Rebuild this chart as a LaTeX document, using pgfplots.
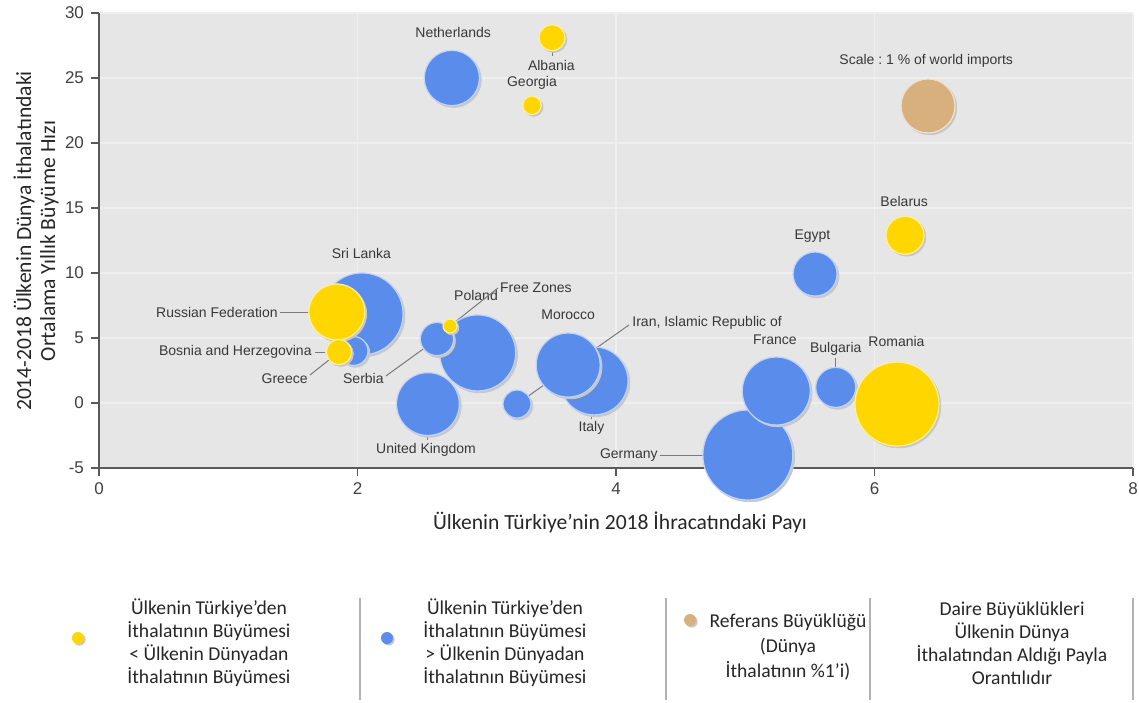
\documentclass[border=0pt]{standalone}
\usepackage{pgfplots}
\pgfplotsset{compat=1.18}
\usepackage{fontspec}
\setmainfont{Carlito}
\newfontfamily\lab{Liberation Sans}
\usetikzlibrary{arrows.meta}
\frenchspacing

\definecolor{cyel}{HTML}{FFD600}
\definecolor{cblue}{HTML}{5A8CEC}
\definecolor{ctan}{HTML}{D8B07E}
\definecolor{bgc}{HTML}{E6E6E6}
\definecolor{axc}{HTML}{5A5A5A}
\definecolor{ptr}{HTML}{7A7A7A}

\tikzset{
  lbl/.style={font=\lab\fontsize{7}{8}\selectfont, text=black!78, inner sep=0pt},
  ptrl/.style={ptr, line width=0.5pt, -{Circle[length=1.8pt]}},
}

% one bubble: x (share in Turkey's 2018 exports), y (growth), radius in pt, colour
\newcommand{\bub}[4]{%
  \addplot[only marks, mark=*, mark size=#3pt, color=black!22,
    mark options={xshift=0.9pt, yshift=-0.9pt}] coordinates {(#1,#2)};
  \addplot[only marks, mark=*, mark size=#3pt, draw=white!62!#4, fill=#4,
    line width=0.6pt, mark options={draw=white!62!#4, fill=#4}] coordinates {(#1,#2)};
}

\begin{document}
\begin{tikzpicture}
\useasboundingbox (0,0) rectangle (569.5pt,351pt);
\begin{axis}[
  at={(49.5pt,117pt)}, anchor=south west,
  scale only axis, width=517pt, height=227.5pt,
  xmin=0, xmax=8, ymin=-5, ymax=30,
  xtick={0,2,4,6,8}, ytick={-5,0,5,10,15,20,25,30},
  axis x line*=bottom, axis y line*=left,
  axis line style={axc, line width=0.75pt, -},
  x axis line style={-}, y axis line style={-},
  tick style={axc, line width=0.6pt},
  tick align=outside, major tick length=4pt,
  grid=major, grid style={white!35!bgc, line width=0.6pt},
  axis background/.style={fill=bgc},
  clip=false,
  tick label style={font=\lab\fontsize{8.5}{10}\selectfont, text=black!75},
  /pgf/number format/assume math mode=true,
]
% blue: growth of imports from Turkey > growth of imports from world
\bub{5.02}{-4.0}{22.5}{cblue}  % Germany
\bub{5.24}{0.92}{17}{cblue}    % France
\bub{3.83}{1.7}{17}{cblue}     % Italy
\bub{3.63}{2.92}{16}{cblue}    % Morocco
\bub{2.93}{3.85}{19}{cblue}    % Poland
\bub{2.615}{4.92}{8.3}{cblue}  % Serbia
\bub{2.035}{6.85}{20.5}{cblue} % Sri Lanka
\bub{1.97}{4.0}{7.2}{cblue}    % Greece
\bub{2.73}{25.0}{13.8}{cblue}  % Netherlands
\bub{2.545}{-0.08}{15.7}{cblue}% United Kingdom
\bub{3.234}{-0.08}{7}{cblue}   % Iran
\bub{5.54}{9.92}{11}{cblue}    % Egypt
\bub{5.70}{1.2}{10}{cblue}     % Bulgaria
% yellow: growth of imports from Turkey < growth of imports from world
\bub{6.174}{-0.08}{21}{cyel}   % Romania
\bub{1.84}{7.0}{14}{cyel}      % Russian Federation
\bub{1.857}{3.92}{6.3}{cyel}   % Bosnia and Herzegovina
\bub{2.716}{5.92}{3.5}{cyel}   % Free Zones
\bub{3.505}{28.1}{6.5}{cyel}   % Albania
\bub{3.35}{22.9}{4.6}{cyel}    % Georgia
\bub{6.236}{12.9}{9.5}{cyel}   % Belarus
% reference size: 1 % of world imports
\bub{6.414}{22.85}{13.5}{ctan}

% labels and pointers
\node[lbl] at (axis cs:2.74,28.5) {Netherlands};
\node[lbl] at (axis cs:3.50,26.0) {Albania};
\draw[ptrl] (axis cs:3.505,26.7) -- (axis cs:3.505,28.1);
\node[lbl] at (axis cs:3.35,24.6) {Georgia};
\node[lbl] at (axis cs:6.40,26.3) {Scale : 1 \% of world imports};
\node[lbl] at (axis cs:6.23,15.5) {Belarus};
\node[lbl] at (axis cs:5.52,12.8) {Egypt};
\node[lbl] at (axis cs:2.03,11.5) {Sri Lanka};
\node[lbl, anchor=east] at (axis cs:1.385,7.0) {Russian Federation};
\draw[ptrl] (axis cs:1.40,7.0) -- (axis cs:1.84,7.0);
\node[lbl, anchor=east] at (axis cs:1.648,3.92) {Bosnia and Herzegovina};
\draw[ptr, line width=0.5pt] (axis cs:1.671,3.92) -- (axis cs:1.75,3.92);
\node[lbl, anchor=east] at (axis cs:1.617,1.9) {Greece};
\draw[ptrl] (axis cs:1.632,2.15) -- (axis cs:1.857,3.92);
\node[lbl, anchor=east] at (axis cs:2.205,1.9) {Serbia};
\draw[ptrl] (axis cs:2.22,2.08) -- (axis cs:2.615,4.92);
\node[lbl] at (axis cs:2.917,8.3) {Poland};
\node[lbl, anchor=west] at (axis cs:3.10,8.9) {Free Zones};
\draw[ptrl] (axis cs:3.087,8.85) -- (axis cs:2.716,5.92);
\node[lbl] at (axis cs:3.63,6.8) {Morocco};
\node[lbl, anchor=west] at (axis cs:4.124,6.15) {Iran, Islamic Republic of};
\draw[ptrl] (axis cs:4.10,6.0) -- (axis cs:3.234,-0.08);
\node[lbl] at (axis cs:5.23,4.85) {France};
\node[lbl] at (axis cs:5.70,4.2) {Bulgaria};
\draw[ptrl] (axis cs:5.70,3.5) -- (axis cs:5.70,1.2);
\node[lbl] at (axis cs:6.17,4.7) {Romania};
\node[lbl] at (axis cs:3.81,-1.9) {Italy};
\draw[ptr, line width=0.5pt] (axis cs:3.81,-1.2) -- (axis cs:3.81,1.0);
\node[lbl] at (axis cs:2.53,-3.6) {United Kingdom};
\draw[ptrl] (axis cs:2.545,-2.85) -- (axis cs:2.545,-0.08);
\node[lbl, anchor=east] at (axis cs:4.325,-4.0) {Germany};
\draw[ptrl] (axis cs:4.34,-4.0) -- (axis cs:5.02,-4.0);
\end{axis}

% axis titles
\node[rotate=90, align=center, font=\fontsize{10.8}{12}\selectfont, text=black!85] at (18pt,230.5pt)
  {2014-2018 Ülkenin Dünya İthalatındaki\\Ortalama Yıllık Büyüme Hızı};
\node[font=\fontsize{10.8}{12}\selectfont, text=black!85] at (310pt,90pt)
  {Ülkenin Türkiye’nin 2018 İhracatındaki Payı};

% legend
\foreach \sx in {180,333,435,566.5}{\draw[black!30, line width=1pt] (\sx pt,52pt) -- (\sx pt,1pt);}
\node[circle, fill=black!22, inner sep=0pt, minimum size=6pt] at (39.8pt,31.2pt) {};
\node[circle, fill=cyel, inner sep=0pt, minimum size=6pt] at (39pt,32pt) {};
\node[align=center, font=\fontsize{9.8}{11.5}\selectfont, text=black!85] at (104.5pt,29.5pt)
  {Ülkenin Türkiye’den\\İthalatının Büyümesi\\< Ülkenin Dünyadan\\İthalatının Büyümesi};
\node[circle, fill=black!22, inner sep=0pt, minimum size=6pt] at (194.3pt,31.2pt) {};
\node[circle, fill=cblue, inner sep=0pt, minimum size=6pt] at (193.5pt,32pt) {};
\node[align=center, font=\fontsize{9.8}{11.5}\selectfont, text=black!85] at (252.5pt,29.5pt)
  {Ülkenin Türkiye’den\\İthalatının Büyümesi\\> Ülkenin Dünyadan\\İthalatının Büyümesi};
\node[circle, fill=black!22, inner sep=0pt, minimum size=6pt] at (345.8pt,40.2pt) {};
\node[circle, fill=ctan, inner sep=0pt, minimum size=6pt] at (345pt,41pt) {};
\node[align=center, font=\fontsize{9.8}{12.5}\selectfont, text=black!85] at (394pt,27.5pt)
  {Referans Büyüklüğü\\(Dünya\\İthalatının \%1’i)};
\node[align=center, font=\fontsize{9.8}{11.5}\selectfont, text=black!85] at (506pt,29.5pt)
  {Daire Büyüklükleri\\Ülkenin Dünya\\İthalatından Aldığı Payla\\Orantılıdır};
\end{tikzpicture}
\end{document}
